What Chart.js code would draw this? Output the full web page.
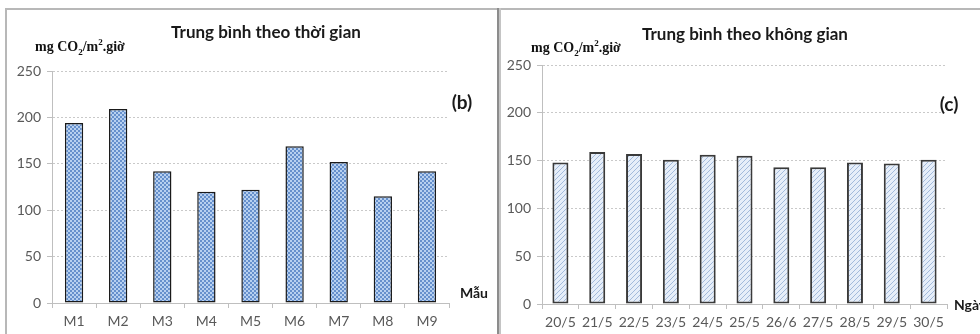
<!DOCTYPE html>
<html><head><meta charset="utf-8">
<script src="https://cdn.jsdelivr.net/npm/chart.js@4/dist/chart.umd.min.js"></script>
<style>
body{margin:0;background:#fff;width:980px;height:334px;overflow:hidden;position:relative;font-family:Lato,sans-serif}
.ln{position:absolute;background:#b8b8b8}
.wrap{position:absolute;top:0;height:334px}
.t{position:absolute;white-space:nowrap;transform:translate(-50%,-50%);color:#1a1a1a;font-weight:bold}
.u{position:absolute;white-space:nowrap;transform:translateY(-50%);font-family:"Liberation Serif",serif;font-weight:bold;font-size:14px;color:#111}
.u sub,.u sup{font-size:9px}
</style></head>
<body>
<div class="ln" style="left:5px;top:8px;width:975px;height:2px"></div>
<div class="ln" style="left:5px;top:8px;width:2px;height:326px"></div>
<div class="ln" style="left:497px;top:8px;width:2px;height:326px;background:#8c8c8c"></div>
<div class="ln" style="left:499px;top:8px;width:2px;height:326px;background:#c4c4c4"></div>

<div class="wrap" style="left:0;width:498px"><canvas id="c1" width="498" height="334"></canvas></div>
<div class="wrap" style="left:500px;width:480px"><canvas id="c2" width="480" height="334"></canvas></div>

<div class="t" style="left:266px;top:31px;font-size:17px">Trung bình theo thời gian</div>
<div class="t" style="left:745px;top:33px;font-size:17px">Trung bình theo không gian</div>
<div class="u" style="left:35px;top:47px">mg CO<sub>2</sub>/m<sup>2</sup>.giờ</div>
<div class="u" style="left:531px;top:48px">mg CO<sub>2</sub>/m<sup>2</sup>.giờ</div>
<div class="t" style="left:462px;top:101px;font-size:19px">(b)</div>
<div class="t" style="left:949px;top:103px;font-size:19px">(c)</div>
<div class="t" style="left:474px;top:292px;font-size:14px">Mẫu</div>
<div class="t" style="left:954px;top:304px;font-size:14px;transform:translateY(-50%)">Ngày</div>

<script>
const leftCategories = ['M1','M2','M3','M4','M5','M6','M7','M8','M9'];
const leftValues = [194, 209, 142, 120, 122, 169, 152, 115, 142];
const rightCategories = ['20/5','21/5','22/5','23/5','24/5','25/5','26/6','27/5','28/5','29/5','30/5'];
const rightValues = [148, 159, 157, 151, 156, 155, 143, 143, 148, 147, 151];
const yMin = 0, yMax = 250, yStep = 50;

function checkerPattern(){
  const c = document.createElement('canvas'); c.width = 4; c.height = 4;
  const g = c.getContext('2d');
  g.fillStyle = '#b7d0f0'; g.fillRect(0,0,4,4);
  g.fillStyle = '#6690cc'; g.fillRect(0,0,2,2); g.fillRect(2,2,2,2);
  return g.createPattern(c,'repeat');
}
function hatchPattern(){
  const c = document.createElement('canvas'); c.width = 5; c.height = 5;
  const g = c.getContext('2d');
  g.fillStyle = '#e6eef9'; g.fillRect(0,0,5,5);
  g.strokeStyle = '#a3badb'; g.lineWidth = 1;
  g.beginPath(); g.moveTo(0,5); g.lineTo(5,0); g.moveTo(-1,1); g.lineTo(1,-1); g.moveTo(4,6); g.lineTo(6,4); g.stroke();
  return g.createPattern(c,'repeat');
}

const tickFont = {family:'Lato', size:14};
function makeChart(id, labels, values, fill, border, bw, barPct, pad, yWidth, xHeight){
  return new Chart(document.getElementById(id), {
    type:'bar',
    data:{labels:labels, datasets:[{data:values, backgroundColor:fill, borderColor:border, borderWidth:bw, borderSkipped:false, barPercentage:barPct, categoryPercentage:1}]},
    options:{
      responsive:false, animation:false, events:[],
      layout:{padding:pad},
      plugins:{legend:{display:false}, tooltip:{enabled:false}, title:{display:false}},
      scales:{
        x:{
          ticks:{color:'#595959', font:tickFont, padding:5, maxRotation:0, autoSkip:false},
          grid:{offset:true, drawOnChartArea:false, drawTicks:true, tickLength:5, tickColor:'#bfbfbf'},
          border:{display:true, color:'#bfbfbf', width:1},
          afterFit:s=>{s.height = xHeight;}
        },
        y:{
          min:yMin, max:yMax,
          ticks:{stepSize:yStep, color:'#595959', font:tickFont, padding:6},
          grid:{color:'#c9c9c9', lineWidth:1, tickLength:5, tickColor:'#bfbfbf', tickBorderDash:[]},
          border:{display:true, color:'#bfbfbf', width:1, dash:[2,2]},
          afterFit:s=>{s.width = yWidth;}
        }
      }
    }
  });
}

makeChart('c1', leftCategories, leftValues, checkerPattern(), '#1a1a1a', 1.5, 0.415, {left:0, top:71, right:49, bottom:0}, 52, 31);
makeChart('c2', rightCategories, rightValues, hatchPattern(), '#3a3a3a', 2, 0.435, {left:0, top:65, right:33, bottom:0}, 42, 30);
</script>
</body></html>
